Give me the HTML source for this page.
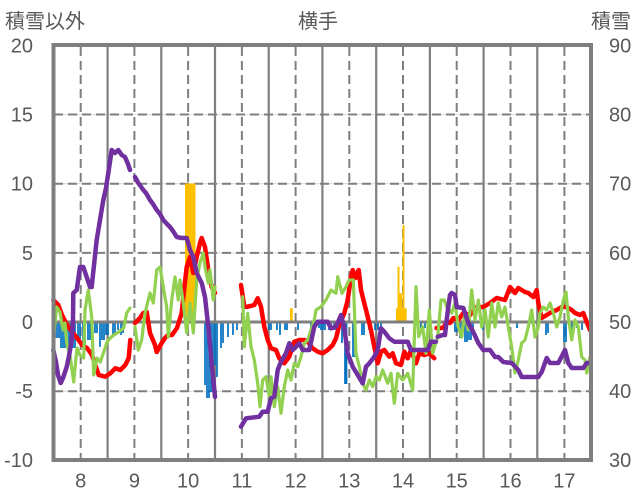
<!DOCTYPE html>
<html><head><meta charset="utf-8"><style>
html,body{margin:0;padding:0;background:#fff;}
svg{display:block;}
text{font-family:"Liberation Sans","Noto Sans CJK JP",sans-serif;fill:#595959;font-size:20px;}
</style></head><body>
<svg width="636" height="501" viewBox="0 0 636 501" xmlns="http://www.w3.org/2000/svg">
<rect width="636" height="501" fill="#fff"/>
<g stroke="#d9d9d9" stroke-width="1">
<line x1="54" y1="114.5" x2="591" y2="114.5"/><line x1="54" y1="183.7" x2="591" y2="183.7"/><line x1="54" y1="252.9" x2="591" y2="252.9"/><line x1="54" y1="391.2" x2="591" y2="391.2"/>
</g>
<g stroke="#7f7f7f" stroke-width="2" stroke-dasharray="9 5">
<line x1="54" y1="114.5" x2="591" y2="114.5"/><line x1="54" y1="183.7" x2="591" y2="183.7"/><line x1="54" y1="252.9" x2="591" y2="252.9"/><line x1="54" y1="391.2" x2="591" y2="391.2"/>
<line x1="80.7" y1="47" x2="80.7" y2="459"/><line x1="134.4" y1="47" x2="134.4" y2="459"/><line x1="188.1" y1="47" x2="188.1" y2="459"/><line x1="241.9" y1="47" x2="241.9" y2="459"/><line x1="295.6" y1="47" x2="295.6" y2="459"/><line x1="349.3" y1="47" x2="349.3" y2="459"/><line x1="403" y1="47" x2="403" y2="459"/><line x1="456.7" y1="47" x2="456.7" y2="459"/><line x1="510.5" y1="47" x2="510.5" y2="459"/><line x1="564.4" y1="47" x2="564.4" y2="459"/>
</g>
<g stroke="#7f7f7f" stroke-width="2.2">
<line x1="107.6" y1="45" x2="107.6" y2="460"/><line x1="161.3" y1="45" x2="161.3" y2="460"/><line x1="215" y1="45" x2="215" y2="460"/><line x1="268.7" y1="45" x2="268.7" y2="460"/><line x1="322.4" y1="45" x2="322.4" y2="460"/><line x1="376.2" y1="45" x2="376.2" y2="460"/><line x1="429.9" y1="45" x2="429.9" y2="460"/><line x1="483.6" y1="45" x2="483.6" y2="460"/><line x1="537.3" y1="45" x2="537.3" y2="460"/>
</g>
<path fill="none" stroke="#0070C0" stroke-width="1.7" d="
M55,322V338 M57,322V338 M59,322V338 M61,322V348 M63,322V348 M65,322V348 M67,322V345 M69,322V345 M71,322V348 M73,322V348 M75,322V348 M78,322V342 M80,322V342 M83,322V348 M85,322V348 M88,322V340 M90,322V340 M92,322V340 M95,322V333 M97,322V333 M100,322V347 M102,322V340 M104,322V340 M106,322V335 M108,322V335 M113,322V335 M115,322V333 M118,322V330 M121,322V335 M123,322V333
M205,322V385 M207,322V398 M209,322V398 M211,322V392 M213,322V365 M215,322V365 M217,322V377 M221,322V348 M223,322V343 M228,322V337 M233,322V335 M237,322V330
M269,322V330 M271,322V330 M277,322V330 M280,322V335 M285,322V330 M287,322V330 M298,322V330 M311,322V328 M313,322V328 M315,322V328 M319,322V328 M321,322V330 M323,322V330 M325,322V330 M329,322V330 M331,322V328 M334,322V330 M336,322V330 M342,322V343 M345,322V384 M346.5,322V384 M353,322V357 M355,322V357 M362,322V335 M364,322V335 M369,322V330 M375,322V330 M378,322V330 M381,322V330 M421,322V328 M425,322V328 M431,322V330
M455,322V332 M457,322V332 M460,322V338 M462,322V338 M465,322V342 M467,322V342 M469,322V340 M471,322V340 M473,322V332 M483,322V330 M517,322V328 M546,322V335 M548,322V333 M564,322V342 M566,322V342 M572,322V330 M577,322V328 M582,322V330"/>
<g fill="#FFC000">
<rect x="185" y="183.5" width="10.5" height="138.5"/>
<rect x="290" y="308.3" width="2.8" height="13.7"/>
<rect x="396" y="308.3" width="10.7" height="13.7"/>
<rect x="397.5" y="266.7" width="2" height="55"/>
<rect x="399" y="293.3" width="3" height="29"/>
<rect x="402.5" y="225" width="2" height="97"/>
</g>
<line x1="54" y1="322" x2="591" y2="322" stroke="#7f7f7f" stroke-width="3"/>
<g fill="none" stroke="#FF0000" stroke-width="4.5" stroke-linejoin="round" stroke-linecap="round">
<polyline points="53.3,300 58.3,305 62,315 67,325 72,331.7 77,338 82,345 87,348 92,355 95.3,365 98.7,375 105.3,376.7 110.3,373.3 115.3,368.3 120.3,370 125.3,365 128.7,358 130.3,340"/>
<polyline points="135,323 140,318 143.3,313 146.7,312 150,333 155,345 156.7,352 161.7,343 165,338 168,335 172,335 177,328 181.7,313 183.3,297 186.7,267 190,257 193.3,273 196.7,257 200,243 201.7,238 205,247 208.3,270 211.7,287 215,293"/>
<polyline points="241,285 244.3,306.7 247.7,306.7 254.3,305 257.7,298.3 261,306.7 264.3,326.7 267.7,340 271,348.3 276,350 279.3,358.3 284.3,363.3 289.3,356.7 294.3,341.7 299.3,340 304.3,340 307.7,341.7 312.7,348.3 317.7,351.7 322.7,353.3 327.7,350 332.7,345 336,338.3 339.3,325 344.3,313.3 347.7,300 351,276.7 352.7,270 355.5,278 358.7,270 361,290 364.3,303.3 367.7,316.7 371,330 374.3,346.7 377.7,363.3 381,351.7 384.3,350 389.3,356.7 392.7,353.3 396,363.3 401,365 404.3,351.7 407.7,358.3 411,350 416,363.3 419.3,353.3 424.3,355 429.3,353.3 434.3,358.3"/>
<polyline points="436.5,328 443.3,328 446.7,322 450,323 453.3,318 458.3,320 463.3,313 470,315 476.7,307 483.3,307 490,303 496.7,298 505,300 510,287 515,293 518.3,288 525,292 528.3,293 533.3,297 536.7,290 538.3,303 541.7,318 546.7,315 551.7,312 556.7,310 561.7,307 566.7,307 571.7,310 575,313 580,315 583.3,313 586.7,322 590,330"/>
</g>
<g fill="none" stroke="#92D050" stroke-width="3.2" stroke-linejoin="round" stroke-linecap="round">
<polyline points="53.3,340 56.7,307 60,312 63,330 65,323 67,345 70,355 73.7,382 77,348 80,355 83.7,358 85,310 88.3,290 91.7,317 93.7,375 97,358 100.3,362 103.7,352 107,342 110.3,338 113.7,335 118.7,332 123.7,328 126.7,313 130,308"/>
<polyline points="135,327 138.3,350 141.7,340 145,313 150,293 153.3,303 156.7,270 160,267 163.3,287 166.7,307 168.3,337 171.7,300 175,277 178.3,300 180,280 183.3,303 186.7,333 190,303 193.3,333 196.7,280 200,263 203.3,253 205,267 208.3,283 210,270 213.3,300 215,287"/>
<polyline points="242.7,296.7 244.3,346.7 247.7,313.3 251,346.7 254.3,360 257.7,383.3 260,406.7 262.7,380 266,376.7 269.3,396.7 271,376.7 274.3,406.7 277.7,386.7 281,413.3 284.3,386.7 287.7,370 291,380 294.3,363.3 297.7,366.7 301,356.7 304.3,343.3 307.7,340 311,330 314.3,320 316,310 321,306.7 326,300 331,290 336,293.3 337.7,276.7 342,293.3 346,286.7 349.3,280 353.3,280 356,353.3 359.3,366.7 362.7,383.3 366,390 369.3,380 372.7,386.7 376,376.7 379.3,380 382.7,370 387.7,383.3 391,373.3 394.3,403.3 397.7,373.3 402.7,380 407.7,373.3 412.7,390 416,286.7 418.7,336.7 422.7,326.7 426,353.3 429.3,310 432.7,353.3 437.7,336.7 441,300 444.3,300 446.7,307 451.7,313 455,303 458.3,327 461.7,337 465,313 468.3,330 471.7,290 475,320 478.3,300 481.7,327 485,310 488.3,337 491.7,303 495,327 498.3,303 501.7,317 505,307 508.3,327 511.7,347 515,373 518.3,360 521.7,343 525,340 528.3,327 531.7,310 535,337 538.3,327 540,313 543.3,307 546.7,310 550,303 553.3,313 556.7,327 560,317 563.3,300 566,292 568.3,317 571.7,340 575,320 578.3,327 581.7,357 585,360 586.7,373 590,357"/>
</g>
<g fill="none" stroke="#7030A0" stroke-width="4.5" stroke-linejoin="round" stroke-linecap="round">
<polyline points="53.3,350 56,362 58,375 60.7,383 63,378 66.7,367 69,356 71.7,340 73,320 73.3,293 76.7,290 80,267 83.3,267 86,275 90,287 91.7,287 94,265 96.7,240 100,220 103.3,200 106,188 108.3,173 111.7,150 115,153 118.3,150 121.7,155 125,157 128,164 130,170"/>
<polyline points="135,177 138.3,183 143.3,190 146,193 150,200 153,204 156.7,210 160,214 163.3,220 167,224 170,227 173,231 176.7,237 181.7,238 186.7,238 190,250 193.3,257 196.7,273 201.7,283 205,297 208.3,327 211.7,363 215,397"/>
<polyline points="241,426.7 246,418.3 259.3,416.7 262.7,411.7 267.7,411.7 271,398.3 274.3,396.7 277.7,370 281,361.7 286,353.3 289.3,343.3 292.7,350 299.3,343.3 302.7,350 309.3,350 314.3,326.7 317.7,321.7 327.7,321.7 331,328.3 336,326.7 341,315 344.3,328.3 347.7,353.3 352.7,366.7 357.7,375 362.7,383.3 366,366.7 369.3,363.3 374.3,356.7 377.7,350 381,328.3 384.3,331.7 389.3,338.3 394.3,341.7 407.7,341.7 411,350 427.7,350 431,341.7 436,341.7"/>
<polyline points="437.7,336.7 442.7,335 445,335 446.7,320 448.3,307 450,295 451.7,293 455,295 456.7,307 463.3,308 468.3,323 473.3,332 478.3,343 483.3,350 490,350 495,357 498.3,357 503.3,362 511.7,363 518.3,370 521.7,377 538.3,377 541.7,372 546.7,358 550,363 558.3,363 565,350 568.3,363 571.7,368 583.3,368 586.7,363 590,363"/>
</g>
<rect x="53.5" y="45" width="537.5" height="415" fill="none" stroke="#7f7f7f" stroke-width="4"/>
<text x="5" y="28">積雪以外</text>
<text x="318" y="28" text-anchor="middle">横手</text>
<text x="631" y="28" text-anchor="end">積雪</text>
<g text-anchor="end">
<text x="33" y="52.5">20</text><text x="33" y="121.5">15</text><text x="33" y="190.7">10</text><text x="33" y="259.9">5</text><text x="33" y="329">0</text><text x="33" y="398.2">-5</text><text x="33" y="467">-10</text>
</g>
<g text-anchor="start">
<text x="609" y="52.5">90</text><text x="609" y="121.5">80</text><text x="609" y="190.7">70</text><text x="609" y="259.9">60</text><text x="609" y="329">50</text><text x="609" y="398.2">40</text><text x="609" y="467">30</text>
</g>
<g text-anchor="middle">
<text x="80.7" y="487.5">8</text><text x="134.4" y="487.5">9</text><text x="188.1" y="487.5">10</text><text x="241.9" y="487.5">11</text><text x="295.6" y="487.5">12</text><text x="349.3" y="487.5">13</text><text x="403" y="487.5">14</text><text x="456.7" y="487.5">15</text><text x="510.5" y="487.5">16</text><text x="564.4" y="487.5">17</text>
</g>
</svg>
</body></html>
